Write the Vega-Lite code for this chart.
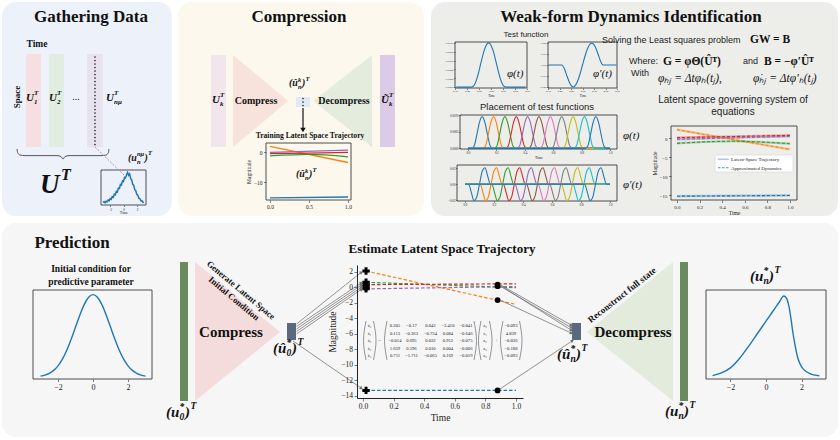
{
"$schema": "https://vega.github.io/schema/vega-lite/v6.json",
"width": 840, "height": 440, "autosize": "none", "padding": 0, "background": "#ffffff",
"config": {
  "view": {"stroke": null},
  "axis": {"grid": false, "domain": false, "labelFont": "Liberation Serif", "titleFont": "Liberation Serif", "titleFontWeight": "normal", "labelColor": "#222", "titleColor": "#222", "tickColor": "#333", "tickWidth": 0.6, "tickSize": 2.5, "labelPadding": 1.5, "labelFlush": false, "labelOverlap": false},
  "text": {"font": "Liberation Serif"}
},
"datasets": {
  "arrows": [
    {"x": 296.5, "y": 324, "x2": 361, "y2": 272.5},
    {"x": 296.5, "y": 326.5, "x2": 361, "y2": 283},
    {"x": 296.5, "y": 329, "x2": 361, "y2": 285.3},
    {"x": 296.5, "y": 331.5, "x2": 361, "y2": 287.5},
    {"x": 296.5, "y": 334, "x2": 361, "y2": 289.6},
    {"x": 293, "y": 341, "x2": 361, "y2": 388},
    {"x": 500, "y": 284.6, "x2": 571, "y2": 325},
    {"x": 500, "y": 286.1, "x2": 571, "y2": 327.5},
    {"x": 500, "y": 285.4, "x2": 571, "y2": 330},
    {"x": 500, "y": 300.1, "x2": 571, "y2": 333},
    {"x": 500, "y": 389, "x2": 572, "y2": 341}
  ],
  "bumps": [
    {"k": 0, "t": [0,0.025,0.044,0.062,0.081,0.1,0.119,0.138,0.156,0.175,1], "p": [0,0,0.00008,0.0004,0.00078,0.00095,0.00078,0.0004,0.00008,0,0], "d": [0,0,-0.0105,-0.0206,-0.0161,0,0.0161,0.0206,0.0105,0,0]},
    {"k": 1, "t": [0,0.105,0.124,0.142,0.161,0.18,0.199,0.218,0.236,0.255,1], "p": [0,0,0.00008,0.0004,0.00078,0.00095,0.00078,0.0004,0.00008,0,0], "d": [0,0,-0.0105,-0.0206,-0.0161,0,0.0161,0.0206,0.0105,0,0]},
    {"k": 2, "t": [0,0.185,0.204,0.222,0.241,0.26,0.279,0.298,0.316,0.335,1], "p": [0,0,0.00008,0.0004,0.00078,0.00095,0.00078,0.0004,0.00008,0,0], "d": [0,0,-0.0105,-0.0206,-0.0161,0,0.0161,0.0206,0.0105,0,0]},
    {"k": 3, "t": [0,0.265,0.284,0.302,0.321,0.34,0.359,0.378,0.396,0.415,1], "p": [0,0,0.00008,0.0004,0.00078,0.00095,0.00078,0.0004,0.00008,0,0], "d": [0,0,-0.0105,-0.0206,-0.0161,0,0.0161,0.0206,0.0105,0,0]},
    {"k": 4, "t": [0,0.345,0.364,0.382,0.401,0.42,0.439,0.458,0.476,0.495,1], "p": [0,0,0.00008,0.0004,0.00078,0.00095,0.00078,0.0004,0.00008,0,0], "d": [0,0,-0.0105,-0.0206,-0.0161,0,0.0161,0.0206,0.0105,0,0]},
    {"k": 5, "t": [0,0.425,0.444,0.462,0.481,0.5,0.519,0.538,0.556,0.575,1], "p": [0,0,0.00008,0.0004,0.00078,0.00095,0.00078,0.0004,0.00008,0,0], "d": [0,0,-0.0105,-0.0206,-0.0161,0,0.0161,0.0206,0.0105,0,0]},
    {"k": 6, "t": [0,0.505,0.524,0.542,0.561,0.58,0.599,0.618,0.636,0.655,1], "p": [0,0,0.00008,0.0004,0.00078,0.00095,0.00078,0.0004,0.00008,0,0], "d": [0,0,-0.0105,-0.0206,-0.0161,0,0.0161,0.0206,0.0105,0,0]},
    {"k": 7, "t": [0,0.585,0.604,0.622,0.641,0.66,0.679,0.698,0.716,0.735,1], "p": [0,0,0.00008,0.0004,0.00078,0.00095,0.00078,0.0004,0.00008,0,0], "d": [0,0,-0.0105,-0.0206,-0.0161,0,0.0161,0.0206,0.0105,0,0]},
    {"k": 8, "t": [0,0.665,0.684,0.702,0.721,0.74,0.759,0.778,0.796,0.815,1], "p": [0,0,0.00008,0.0004,0.00078,0.00095,0.00078,0.0004,0.00008,0,0], "d": [0,0,-0.0105,-0.0206,-0.0161,0,0.0161,0.0206,0.0105,0,0]},
    {"k": 9, "t": [0,0.745,0.764,0.782,0.801,0.82,0.839,0.858,0.876,0.895,1], "p": [0,0,0.00008,0.0004,0.00078,0.00095,0.00078,0.0004,0.00008,0,0], "d": [0,0,-0.0105,-0.0206,-0.0161,0,0.0161,0.0206,0.0105,0,0]},
    {"k": 10, "t": [0,0.825,0.844,0.862,0.881,0.9,0.919,0.938,0.956,0.975,1], "p": [0,0,0.00008,0.0004,0.00078,0.00095,0.00078,0.0004,0.00008,0,0], "d": [0,0,-0.0105,-0.0206,-0.0161,0,0.0161,0.0206,0.0105,0,0]}
  ],
  "latent": [
    {"s": "a", "t": 0, "v": -15.3}, {"s": "a", "t": 1, "v": -15.1},
    {"s": "b", "t": 0, "v": 2.2}, {"s": "b", "t": 1, "v": -3.0},
    {"s": "c", "t": 0, "v": -1.4}, {"s": "c", "t": 0.5, "v": -0.85}, {"s": "c", "t": 1, "v": -1.5},
    {"s": "d", "t": 0, "v": 0.1}, {"s": "d", "t": 1, "v": 0.7},
    {"s": "e", "t": 0, "v": -0.35}, {"s": "e", "t": 1, "v": 0.45}
  ],
  "ticks01": [
    {"m": 0, "lab": "0.0"}, {"m": 0.2, "lab": "0.2"}, {"m": 0.4, "lab": "0.4"}, {"m": 0.6, "lab": "0.6"}, {"m": 0.8, "lab": "0.8"}
  ]
},
"resolve": {"scale": {"x": "independent", "y": "independent", "color": "independent"}},
"layer": [
  {
    "encoding": {
      "x": {"field": "x", "type": "quantitative", "scale": {"domain": [0, 840], "nice": false, "zero": false}, "axis": null},
      "y": {"field": "y", "type": "quantitative", "scale": {"domain": [0, 440], "reverse": true, "nice": false, "zero": false}, "axis": null}
    },
    "resolve": {"scale": {"color": "independent"}},
    "layer": [
      {
        "data": {"values": [
          {"p": "g", "x": 2, "x2": 172, "y": 2, "y2": 216},
          {"p": "c", "x": 178, "x2": 424, "y": 2, "y2": 216},
          {"p": "w", "x": 431, "x2": 838, "y": 2, "y2": 216},
          {"p": "p", "x": 2, "x2": 838, "y": 223, "y2": 437}
        ]},
        "mark": {"type": "rect", "cornerRadius": 14},
        "encoding": {
          "x2": {"field": "x2"}, "y2": {"field": "y2"},
          "color": {"field": "p", "type": "nominal", "scale": {"domain": ["g", "c", "w", "p"], "range": ["#edf2fa", "#fcf8ee", "#ededea", "#f6f6f6"]}, "legend": null}
        }
      },
      {
        "data": {"values": [
          {"k": "u1", "x": 26, "x2": 41, "y": 54, "y2": 147},
          {"k": "u2", "x": 49, "x2": 64, "y": 54, "y2": 147},
          {"k": "un", "x": 87, "x2": 103, "y": 54, "y2": 147},
          {"k": "uk", "x": 211, "x2": 226, "y": 55, "y2": 147},
          {"k": "ukt", "x": 380, "x2": 395, "y": 55, "y2": 147},
          {"k": "lat", "x": 296, "x2": 310, "y": 97, "y2": 107},
          {"k": "st", "x": 180, "x2": 188, "y": 262, "y2": 401},
          {"k": "st", "x": 680, "x2": 688, "y": 262, "y2": 401},
          {"k": "code", "x": 287, "x2": 296, "y": 323, "y2": 340},
          {"k": "code", "x": 572, "x2": 581, "y": 323, "y2": 340}
        ]},
        "mark": {"type": "rect"},
        "encoding": {
          "x2": {"field": "x2"}, "y2": {"field": "y2"},
          "color": {"field": "k", "type": "nominal", "scale": {"domain": ["u1", "u2", "un", "uk", "ukt", "lat", "st", "code"], "range": ["#f6dfe0", "#e0ede0", "#e8e1ee", "#f1e6ec", "#dccbe6", "#e2e9f2", "#6a8b5f", "#5a6a7e"]}, "legend": null}
        }
      },
      {
        "data": {"values": [
          {"tri": "a", "x": 233, "y": 55, "y2": 147}, {"tri": "a", "x": 288, "y": 101, "y2": 101},
          {"tri": "b", "x": 313, "y": 101, "y2": 101}, {"tri": "b", "x": 372, "y": 55, "y2": 147},
          {"tri": "c", "x": 195, "y": 262, "y2": 401}, {"tri": "c", "x": 280, "y": 332, "y2": 332},
          {"tri": "d", "x": 587, "y": 332, "y2": 332}, {"tri": "d", "x": 673, "y": 262, "y2": 401}
        ]},
        "mark": {"type": "area", "orient": "vertical"},
        "encoding": {
          "y2": {"field": "y2"},
          "color": {"field": "tri", "type": "nominal", "scale": {"domain": ["a", "b", "c", "d"], "range": ["#f8e2dc", "#e4eddd", "#f5dcdc", "#e2ebdc"]}, "legend": null}
        }
      },
      {
        "data": {"values": [
          {"x": 101, "x2": 146, "y": 170, "y2": 205},
          {"x": 266, "x2": 351, "y": 143, "y2": 200},
          {"x": 455, "x2": 527, "y": 42, "y2": 88},
          {"x": 548, "x2": 617, "y": 42, "y2": 88},
          {"x": 460, "x2": 617, "y": 115, "y2": 149},
          {"x": 457, "x2": 617, "y": 165, "y2": 201},
          {"x": 671, "x2": 797, "y": 126, "y2": 200},
          {"x": 33, "x2": 152, "y": 290, "y2": 379},
          {"x": 706, "x2": 826, "y": 290, "y2": 379}
        ]},
        "mark": {"type": "rect", "filled": false, "stroke": "#3a3a3a", "strokeWidth": 0.9},
        "encoding": {"x2": {"field": "x2"}, "y2": {"field": "y2"}}
      },
      {
        "data": {"values": [{"x": 715, "x2": 793, "y": 155, "y2": 172}]},
        "mark": {"type": "rect", "fill": "#ffffff", "stroke": "#d4d4d4", "strokeWidth": 0.6, "cornerRadius": 1.5},
        "encoding": {"x2": {"field": "x2"}, "y2": {"field": "y2"}}
      },
      {
        "data": {"values": [
          {"i": 0, "x": 17, "y": 149}, {"i": 1, "x": 17.6, "y": 152.5}, {"i": 2, "x": 20, "y": 155}, {"i": 3, "x": 25, "y": 155.6},
          {"i": 4, "x": 57, "y": 155.6}, {"i": 5, "x": 61, "y": 156.6}, {"i": 6, "x": 63, "y": 159}, {"i": 7, "x": 65, "y": 156.6},
          {"i": 8, "x": 69, "y": 155.6}, {"i": 9, "x": 101, "y": 155.6}, {"i": 10, "x": 106, "y": 155}, {"i": 11, "x": 108.4, "y": 152.5}, {"i": 12, "x": 109, "y": 149}
        ]},
        "mark": {"type": "line", "color": "#444", "strokeWidth": 0.9, "interpolate": "monotone"},
        "encoding": {"order": {"field": "i", "type": "quantitative"}}
      }
    ]
  },
  {
    "encoding": {
      "x": {"field": "u", "type": "quantitative", "scale": {"domain": [-3.3, 3.3], "range": [101, 146], "nice": false, "zero": false}, "axis": {"zindex": 1, "orient": "bottom", "offset": -235, "values": [-2, 0, 2], "labelFontSize": 3.2, "tickSize": 1.5, "labelPadding": 0.5, "title": "Time", "titleFontSize": 4, "titlePadding": 0.5}},
      "y": {"field": "m", "type": "quantitative", "scale": {"domain": [-0.05, 1.05], "range": [205, 170], "nice": false, "zero": false}, "axis": null}
    },
    "layer": [
      {
        "data": {"values": [
          {"u": -3.0, "m": 0.03}, {"u": -2.85, "m": 0.06}, {"u": -2.7, "m": 0.02}, {"u": -2.55, "m": 0.07}, {"u": -2.4, "m": 0.05},
          {"u": -2.25, "m": 0.11}, {"u": -2.1, "m": 0.08}, {"u": -1.95, "m": 0.15}, {"u": -1.8, "m": 0.13}, {"u": -1.65, "m": 0.21},
          {"u": -1.5, "m": 0.19}, {"u": -1.35, "m": 0.29}, {"u": -1.2, "m": 0.27}, {"u": -1.05, "m": 0.38}, {"u": -0.9, "m": 0.36},
          {"u": -0.75, "m": 0.48}, {"u": -0.6, "m": 0.47}, {"u": -0.45, "m": 0.6}, {"u": -0.3, "m": 0.58}, {"u": -0.15, "m": 0.71},
          {"u": 0.0, "m": 0.69}, {"u": 0.15, "m": 0.82}, {"u": 0.3, "m": 0.8}, {"u": 0.45, "m": 0.9}, {"u": 0.6, "m": 0.97},
          {"u": 0.75, "m": 0.88}, {"u": 0.9, "m": 0.93}, {"u": 1.05, "m": 0.78}, {"u": 1.2, "m": 0.74}, {"u": 1.35, "m": 0.6},
          {"u": 1.5, "m": 0.57}, {"u": 1.65, "m": 0.43}, {"u": 1.8, "m": 0.4}, {"u": 1.95, "m": 0.28}, {"u": 2.1, "m": 0.26},
          {"u": 2.25, "m": 0.16}, {"u": 2.4, "m": 0.15}, {"u": 2.55, "m": 0.08}, {"u": 2.7, "m": 0.09}, {"u": 2.85, "m": 0.03}, {"u": 3.0, "m": 0.04}
        ]},
        "mark": {"type": "line", "color": "#1f77b4", "strokeWidth": 1.5}
      },
      {
        "data": {"name": "ticks01"},
        "mark": {"type": "text", "fontSize": 2.6, "align": "right", "baseline": "middle", "dx": -2, "color": "#222"},
        "encoding": {"x": {"datum": -3.3, "type": "quantitative"}, "text": {"field": "lab"}}
      }
    ]
  },
  {
    "data": {"values": [
      {"s": "a", "t": 0, "v": -15.3}, {"s": "a", "t": 1, "v": -15.0},
      {"s": "b", "t": 0, "v": 1.9}, {"s": "b", "t": 1, "v": -3.5},
      {"s": "c", "t": 0, "v": -1.3}, {"s": "c", "t": 0.5, "v": -0.8}, {"s": "c", "t": 1, "v": -1.6},
      {"s": "d", "t": 0, "v": -0.5}, {"s": "d", "t": 0.5, "v": -0.35}, {"s": "d", "t": 1, "v": -0.1},
      {"s": "e", "t": 0, "v": -0.1}, {"s": "e", "t": 1, "v": 0.6}
    ]},
    "mark": {"type": "line", "strokeWidth": 1.3, "interpolate": "monotone"},
    "encoding": {
      "x": {"field": "t", "type": "quantitative", "scale": {"domain": [-0.051, 1.038], "range": [266, 351], "nice": false, "zero": false}, "axis": {"zindex": 1, "orient": "bottom", "offset": -240, "values": [0, 0.5, 1], "format": ".1f", "labelFontSize": 5.5, "title": null}},
      "y": {"field": "v", "type": "quantitative", "scale": {"domain": [-16, 3], "range": [200, 143], "nice": false, "zero": false}, "axis": {"zindex": 1, "orient": "left", "offset": -266, "values": [0, -10], "labelFontSize": 5.5, "title": "Magnitude", "titleFontSize": 5.5, "titlePadding": 2}},
      "color": {"field": "s", "type": "nominal", "scale": {"domain": ["a", "b", "c", "d", "e"], "range": ["#1f77b4", "#ff7f0e", "#2ca02c", "#d62728", "#9467bd"]}, "legend": null}
    }
  },
  {
    "data": {"values": [
      {"t": 0.355, "v": 0}, {"t": 0.415, "v": 0}, {"t": 0.4244, "v": 0.000013}, {"t": 0.4338, "v": 0.000084}, {"t": 0.4431, "v": 0.000226},
      {"t": 0.4525, "v": 0.000422}, {"t": 0.4619, "v": 0.000635}, {"t": 0.4713, "v": 0.000824}, {"t": 0.4806, "v": 0.000954}, {"t": 0.49, "v": 0.001},
      {"t": 0.4994, "v": 0.000954}, {"t": 0.5088, "v": 0.000824}, {"t": 0.5181, "v": 0.000635}, {"t": 0.5275, "v": 0.000422}, {"t": 0.5369, "v": 0.000226},
      {"t": 0.5463, "v": 0.000084}, {"t": 0.5556, "v": 0.000013}, {"t": 0.565, "v": 0}, {"t": 0.645, "v": 0}
    ]},
    "mark": {"type": "line", "color": "#1f77b4", "strokeWidth": 1.1, "interpolate": "monotone"},
    "encoding": {
      "x": {"field": "t", "type": "quantitative", "scale": {"domain": [0.35, 0.65], "range": [455, 527], "nice": false, "zero": false}, "axis": {"zindex": 1, "orient": "bottom", "offset": -352, "values": [0.35, 0.4, 0.45, 0.5, 0.55, 0.6, 0.65], "format": ".2f", "labelFontSize": 2.6, "tickSize": 1.5, "labelPadding": 0.5, "title": "Time", "titleFontSize": 3.2, "titlePadding": 0.5}},
      "y": {"field": "v", "type": "quantitative", "scale": {"domain": [-0.00002, 0.00102], "range": [88, 42], "nice": false, "zero": false}, "axis": {"zindex": 1, "orient": "left", "offset": -455, "values": [0, 0.0002, 0.0004, 0.0006, 0.0008, 0.001], "format": ".5f", "labelFontSize": 2.4, "tickSize": 1.5, "labelPadding": 0.5, "title": null}}
    }
  },
  {
    "data": {"values": [
      {"t": 0.352, "v": 0}, {"t": 0.41, "v": 0}, {"t": 0.4213, "v": -0.00336}, {"t": 0.4325, "v": -0.01004}, {"t": 0.4438, "v": -0.01622},
      {"t": 0.455, "v": -0.01966}, {"t": 0.4598, "v": -0.02}, {"t": 0.4663, "v": -0.01936}, {"t": 0.4775, "v": -0.01536}, {"t": 0.4888, "v": -0.00846},
      {"t": 0.5, "v": 0}, {"t": 0.5113, "v": 0.00846}, {"t": 0.5225, "v": 0.01536}, {"t": 0.5338, "v": 0.01936}, {"t": 0.5402, "v": 0.02},
      {"t": 0.545, "v": 0.01966}, {"t": 0.5563, "v": 0.01622}, {"t": 0.5675, "v": 0.01004}, {"t": 0.5788, "v": 0.00336}, {"t": 0.59, "v": 0}, {"t": 0.648, "v": 0}
    ]},
    "mark": {"type": "line", "color": "#1f77b4", "strokeWidth": 1.1, "interpolate": "monotone"},
    "encoding": {
      "x": {"field": "t", "type": "quantitative", "scale": {"domain": [0.35, 0.65], "range": [548, 617], "nice": false, "zero": false}, "axis": {"zindex": 1, "orient": "bottom", "offset": -352, "values": [0.35, 0.4, 0.45, 0.5, 0.55, 0.6, 0.65], "format": ".2f", "labelFontSize": 2.6, "tickSize": 1.5, "labelPadding": 0.5, "title": "Time", "titleFontSize": 3.2, "titlePadding": 0.5}},
      "y": {"field": "v", "type": "quantitative", "scale": {"domain": [-0.021, 0.021], "range": [88, 42], "nice": false, "zero": false}, "axis": {"zindex": 1, "orient": "left", "offset": -548, "values": [-0.02, -0.01, 0, 0.01, 0.02], "format": ".3f", "labelFontSize": 2.4, "tickSize": 1.5, "labelPadding": 0.5, "title": null}}
    }
  },
  {
    "data": {"name": "bumps"},
    "transform": [{"flatten": ["t", "p", "d"]}],
    "mark": {"type": "line", "strokeWidth": 1.1, "interpolate": "monotone"},
    "encoding": {
      "x": {"field": "t", "type": "quantitative", "scale": {"domain": [-0.056, 1.049], "range": [460, 617], "nice": false, "zero": false}, "axis": {"zindex": 1, "orient": "bottom", "offset": -291, "values": [0, 0.2, 0.4, 0.6, 0.8, 1], "format": ".1f", "labelFontSize": 3, "tickSize": 1.5, "labelPadding": 0.5, "title": "Time", "titleFontSize": 3.8, "titlePadding": 1}},
      "y": {"field": "p", "type": "quantitative", "scale": {"domain": [-0.00002, 0.001], "range": [149, 115], "nice": false, "zero": false}, "axis": {"zindex": 1, "orient": "left", "offset": -460, "values": [0, 0.0005, 0.001], "format": ".4f", "labelFontSize": 3, "tickSize": 1.5, "labelPadding": 0.5, "title": null}},
      "color": {"field": "k", "type": "nominal", "scale": {"domain": [0, 1, 2, 3, 4, 5, 6, 7, 8, 9, 10], "range": ["#1f77b4", "#ff7f0e", "#2ca02c", "#d62728", "#9467bd", "#8c564b", "#e377c2", "#7f7f7f", "#bcbd22", "#17becf", "#1f77b4"]}, "legend": null}
    }
  },
  {
    "data": {"name": "bumps"},
    "transform": [{"flatten": ["t", "p", "d"]}],
    "mark": {"type": "line", "strokeWidth": 1.1, "interpolate": "monotone"},
    "encoding": {
      "x": {"field": "t", "type": "quantitative", "scale": {"domain": [-0.055, 1.048], "range": [457, 617], "nice": false, "zero": false}, "axis": {"zindex": 1, "orient": "bottom", "offset": -239, "values": [0, 0.2, 0.4, 0.6, 0.8, 1], "format": ".1f", "labelFontSize": 3, "tickSize": 1.5, "labelPadding": 0.5, "title": null}},
      "y": {"field": "d", "type": "quantitative", "scale": {"domain": [-0.021, 0.024], "range": [201, 165], "nice": false, "zero": false}, "axis": {"zindex": 1, "orient": "left", "offset": -457, "values": [-0.02, 0, 0.02], "format": ".2f", "labelFontSize": 3.2, "tickSize": 1.5, "labelPadding": 0.5, "title": null}},
      "color": {"field": "k", "type": "nominal", "scale": {"domain": [0, 1, 2, 3, 4, 5, 6, 7, 8, 9, 10], "range": ["#1f77b4", "#ff7f0e", "#2ca02c", "#d62728", "#9467bd", "#8c564b", "#e377c2", "#7f7f7f", "#bcbd22", "#17becf", "#1f77b4"]}, "legend": null}
    }
  },
  {
    "data": {"name": "latent"},
    "encoding": {
      "x": {"field": "t", "type": "quantitative", "scale": {"domain": [-0.053, 1.062], "range": [671, 797], "nice": false, "zero": false}, "axis": {"zindex": 1, "orient": "bottom", "offset": -240, "values": [0, 0.2, 0.4, 0.6, 0.8, 1], "format": ".1f", "labelFontSize": 5, "title": "Time", "titleFontSize": 5.5, "titlePadding": 1}},
      "y": {"field": "v", "type": "quantitative", "scale": {"domain": [-16.3, 3.16], "range": [200, 126], "nice": false, "zero": false}, "axis": {"zindex": 1, "orient": "left", "offset": -671, "values": [0, -5, -10, -15], "labelFontSize": 5, "title": "Magnitude", "titleFontSize": 5.5, "titlePadding": 2}},
      "color": {"field": "s", "type": "nominal", "scale": {"domain": ["a", "b", "c", "d", "e"], "range": ["#1f77b4", "#ff7f0e", "#2ca02c", "#d62728", "#9467bd"]}, "legend": null}
    },
    "layer": [
      {"mark": {"type": "line", "strokeWidth": 2.2, "opacity": 0.4, "interpolate": "monotone"}},
      {"mark": {"type": "line", "strokeWidth": 1.1, "strokeDash": [3, 2], "interpolate": "monotone"}}
    ]
  },
  {
    "encoding": {
      "x": {"field": "u", "type": "quantitative", "scale": {"domain": [-3.43, 3.37], "range": [33, 152], "nice": false, "zero": false}, "axis": {"zindex": 1, "orient": "bottom", "offset": -61, "values": [-2, 0, 2], "labelFontSize": 8, "title": null}},
      "y": {"field": "m", "type": "quantitative", "scale": {"domain": [-0.022, 0.951], "range": [379, 290], "nice": false, "zero": false}, "axis": null}
    },
    "layer": [
      {
        "data": {"values": [
          {"u": -3, "m": 0.01}, {"u": -2.75, "m": 0.021}, {"u": -2.5, "m": 0.04}, {"u": -2.25, "m": 0.072}, {"u": -2, "m": 0.122},
          {"u": -1.75, "m": 0.195}, {"u": -1.5, "m": 0.292}, {"u": -1.25, "m": 0.412}, {"u": -1, "m": 0.546}, {"u": -0.75, "m": 0.679},
          {"u": -0.5, "m": 0.794}, {"u": -0.25, "m": 0.872}, {"u": 0, "m": 0.9}, {"u": 0.25, "m": 0.872}, {"u": 0.5, "m": 0.794},
          {"u": 0.75, "m": 0.679}, {"u": 1, "m": 0.546}, {"u": 1.25, "m": 0.412}, {"u": 1.5, "m": 0.292}, {"u": 1.75, "m": 0.195},
          {"u": 2, "m": 0.122}, {"u": 2.25, "m": 0.072}, {"u": 2.5, "m": 0.04}, {"u": 2.75, "m": 0.021}, {"u": 3, "m": 0.01}
        ]},
        "mark": {"type": "line", "color": "#1f77b4", "strokeWidth": 1.4, "interpolate": "monotone"}
      },
      {
        "data": {"name": "ticks01"},
        "mark": {"type": "rule", "color": "#333", "strokeWidth": 0.6},
        "encoding": {"x": {"datum": -3.43, "type": "quantitative"}, "x2": {"datum": -3.58}}
      },
      {
        "data": {"name": "ticks01"},
        "mark": {"type": "text", "fontSize": 8, "align": "right", "baseline": "middle", "dx": -4.5, "color": "#222"},
        "encoding": {"x": {"datum": -3.43, "type": "quantitative"}, "text": {"field": "lab"}}
      }
    ]
  },
  {
    "encoding": {
      "x": {"field": "u", "type": "quantitative", "scale": {"domain": [-3.37, 3.37], "range": [706, 826], "nice": false, "zero": false}, "axis": {"zindex": 1, "orient": "bottom", "offset": -61, "values": [-2, 0, 2], "labelFontSize": 8, "title": null}},
      "y": {"field": "m", "type": "quantitative", "scale": {"domain": [-0.022, 0.951], "range": [379, 290], "nice": false, "zero": false}, "axis": null}
    },
    "layer": [
      {
        "data": {"values": [
          {"u": -3, "m": 0.015}, {"u": -2.5, "m": 0.045}, {"u": -2, "m": 0.1}, {"u": -1.5, "m": 0.2}, {"u": -1, "m": 0.33},
          {"u": -0.5, "m": 0.47}, {"u": 0, "m": 0.61}, {"u": 0.5, "m": 0.75}, {"u": 0.75, "m": 0.82}, {"u": 1, "m": 0.885},
          {"u": 1.1, "m": 0.875}, {"u": 1.2, "m": 0.84}, {"u": 1.3, "m": 0.76}, {"u": 1.4, "m": 0.64}, {"u": 1.5, "m": 0.5},
          {"u": 1.6, "m": 0.38}, {"u": 1.7, "m": 0.28}, {"u": 1.8, "m": 0.2}, {"u": 2, "m": 0.11}, {"u": 2.25, "m": 0.06},
          {"u": 2.5, "m": 0.035}, {"u": 2.75, "m": 0.02}, {"u": 3, "m": 0.012}
        ]},
        "mark": {"type": "line", "color": "#1f77b4", "strokeWidth": 1.4, "interpolate": "monotone"}
      },
      {
        "data": {"name": "ticks01"},
        "mark": {"type": "rule", "color": "#333", "strokeWidth": 0.6},
        "encoding": {"x": {"datum": -3.37, "type": "quantitative"}, "x2": {"datum": -3.52}}
      },
      {
        "data": {"name": "ticks01"},
        "mark": {"type": "text", "fontSize": 8, "align": "right", "baseline": "middle", "dx": -4.5, "color": "#222"},
        "encoding": {"x": {"datum": -3.37, "type": "quantitative"}, "text": {"field": "lab"}}
      }
    ]
  },
  {
    "encoding": {
      "x": {"field": "t", "type": "quantitative", "scale": {"domain": [-0.039, 1.046], "range": [357, 523], "nice": false, "zero": false}, "axis": {"zindex": 1, "orient": "bottom", "offset": -42, "values": [0, 0.2, 0.4, 0.6, 0.8, 1], "format": ".1f", "labelFontSize": 7.5, "domain": true, "domainColor": "#222", "domainWidth": 1, "tickSize": 3, "title": "Time", "titleFontSize": 9.5, "titlePadding": 2}},
      "y": {"field": "v", "type": "quantitative", "scale": {"domain": [-14.28, 2.88], "range": [398, 265], "nice": false, "zero": false}, "axis": {"zindex": 1, "orient": "left", "offset": -357, "values": [-14, -12, -10, -8, -6, -4, -2, 0, 2], "labelFontSize": 7.5, "domain": true, "domainColor": "#222", "domainWidth": 1, "tickSize": 3, "title": "Magnitude", "titleFontSize": 9.5, "titlePadding": 3}}
    },
    "layer": [
      {
        "data": {"values": [
          {"s": "a", "t": 0.02, "v": -13.3}, {"s": "a", "t": 1.0, "v": -13.3},
          {"s": "b", "t": 0.02, "v": 2.1}, {"s": "b", "t": 1.0, "v": -2.2},
          {"s": "c", "t": 0.02, "v": 0.65}, {"s": "c", "t": 1.0, "v": -0.05},
          {"s": "d", "t": 0.02, "v": 0.35}, {"s": "d", "t": 1.0, "v": 0.45},
          {"s": "e", "t": 0.02, "v": -0.2}, {"s": "e", "t": 1.0, "v": 0.1}
        ]},
        "mark": {"type": "line", "strokeWidth": 1.2, "strokeDash": [3.5, 2]},
        "encoding": {"color": {"field": "s", "type": "nominal", "scale": {"domain": ["a", "b", "c", "d", "e"], "range": ["#1f77b4", "#ff7f0e", "#2ca02c", "#d62728", "#9467bd"]}, "legend": null}}
      },
      {
        "data": {"values": [
          {"t": 0.02, "v": 2.1}, {"t": 0.02, "v": 0.65}, {"t": 0.02, "v": 0.35}, {"t": 0.02, "v": 0.05}, {"t": 0.02, "v": -0.2}, {"t": 0.02, "v": -13.3}
        ]},
        "mark": {"type": "point", "shape": "cross", "filled": true, "size": 55, "color": "#000", "opacity": 1}
      },
      {
        "data": {"values": [
          {"t": 0.88, "v": 0.35}, {"t": 0.88, "v": 0.15}, {"t": 0.88, "v": -1.65}, {"t": 0.88, "v": -13.3}
        ]},
        "mark": {"type": "point", "shape": "circle", "filled": true, "size": 34, "color": "#000", "opacity": 1}
      }
    ]
  },
  {
    "encoding": {
      "x": {"field": "x", "type": "quantitative", "scale": {"domain": [0, 840], "nice": false, "zero": false}, "axis": null},
      "y": {"field": "y", "type": "quantitative", "scale": {"domain": [0, 440], "reverse": true, "nice": false, "zero": false}, "axis": null}
    },
    "layer": [
      {
        "data": {"values": [{"x": 95, "y": 57, "y2": 146}, {"x": 303, "y": 98.5, "y2": 106}]},
        "mark": {"type": "rule", "color": "#222", "strokeWidth": 1.6, "strokeCap": "round", "strokeDash": [0.1, 3.4]},
        "encoding": {"y2": {"field": "y2"}}
      },
      {
        "data": {"values": [{"x": 95, "y": 147, "x2": 125, "y2": 176}]},
        "mark": {"type": "rule", "color": "#b48ac9", "strokeWidth": 1, "strokeDash": [2, 1.5]},
        "encoding": {"x2": {"field": "x2"}, "y2": {"field": "y2"}}
      },
      {
        "data": {"values": [{"x": 303, "y": 108, "x2": 303, "y2": 128}]},
        "mark": {"type": "rule", "color": "#111", "strokeWidth": 1.2},
        "encoding": {"x2": {"field": "x2"}, "y2": {"field": "y2"}}
      },
      {
        "data": {"values": [{"x": 303, "y": 130}]},
        "mark": {"type": "point", "shape": "triangle-down", "filled": true, "size": 30, "color": "#111", "opacity": 1}
      },
      {
        "data": {"name": "arrows"},
        "mark": {"type": "rule", "color": "#707070", "strokeWidth": 0.75},
        "encoding": {"x2": {"field": "x2"}, "y2": {"field": "y2"}}
      },
      {
        "data": {"name": "arrows"},
        "transform": [{"calculate": "atan2(datum.x2 - datum.x, datum.y - datum.y2) * 180 / PI", "as": "ang"}],
        "mark": {"type": "point", "shape": "triangle", "filled": true, "size": 14, "color": "#707070", "opacity": 1},
        "encoding": {
          "x": {"field": "x2", "type": "quantitative", "scale": {"domain": [0, 840], "nice": false, "zero": false}, "axis": null},
          "y": {"field": "y2", "type": "quantitative", "scale": {"domain": [0, 440], "reverse": true, "nice": false, "zero": false}, "axis": null},
          "angle": {"field": "ang", "type": "quantitative", "scale": null}
        }
      },
      {
        "data": {"values": [
          {"b": "l1", "i": 0, "x": 366, "y": 321}, {"b": "l1", "i": 1, "x": 363.5, "y": 340.5}, {"b": "l1", "i": 2, "x": 366, "y": 360},
          {"b": "r1", "i": 0, "x": 373.5, "y": 321}, {"b": "r1", "i": 1, "x": 376, "y": 340.5}, {"b": "r1", "i": 2, "x": 373.5, "y": 360},
          {"b": "l2", "i": 0, "x": 387, "y": 321}, {"b": "l2", "i": 1, "x": 384.5, "y": 340.5}, {"b": "l2", "i": 2, "x": 387, "y": 360},
          {"b": "r2", "i": 0, "x": 474, "y": 321}, {"b": "r2", "i": 1, "x": 476.5, "y": 340.5}, {"b": "r2", "i": 2, "x": 474, "y": 360},
          {"b": "l3", "i": 0, "x": 481, "y": 321}, {"b": "l3", "i": 1, "x": 478.5, "y": 340.5}, {"b": "l3", "i": 2, "x": 481, "y": 360},
          {"b": "r3", "i": 0, "x": 489.5, "y": 321}, {"b": "r3", "i": 1, "x": 492, "y": 340.5}, {"b": "r3", "i": 2, "x": 489.5, "y": 360},
          {"b": "l4", "i": 0, "x": 503, "y": 321}, {"b": "l4", "i": 1, "x": 500.5, "y": 340.5}, {"b": "l4", "i": 2, "x": 503, "y": 360},
          {"b": "r4", "i": 0, "x": 519.5, "y": 321}, {"b": "r4", "i": 1, "x": 522, "y": 340.5}, {"b": "r4", "i": 2, "x": 519.5, "y": 360}
        ]},
        "mark": {"type": "line", "color": "#333", "strokeWidth": 0.5, "interpolate": "natural"},
        "encoding": {"detail": {"field": "b"}, "order": {"field": "i", "type": "quantitative"}}
      },
      {
        "data": {"values": [{"x": 718, "x2": 729, "y": 159.3, "y2": 159.3}]},
        "mark": {"type": "rule", "color": "#a9c9e6", "strokeWidth": 1.6},
        "encoding": {"x2": {"field": "x2"}, "y2": {"field": "y2"}}
      },
      {
        "data": {"values": [{"x": 718, "x2": 729, "y": 167.8, "y2": 167.8}]},
        "mark": {"type": "rule", "color": "#4a8cc4", "strokeWidth": 1.1, "strokeDash": [2.5, 1.5]},
        "encoding": {"x2": {"field": "x2"}, "y2": {"field": "y2"}}
      },
      {
        "data": {"values": [
          {"x": 91, "y": 22, "t": "Gathering Data"}, {"x": 299, "y": 22, "t": "Compression"},
          {"x": 631, "y": 22, "t": "Weak-form Dynamics Identification"}, {"x": 72, "y": 248, "t": "Prediction"}
        ]},
        "mark": {"type": "text", "fontWeight": "bold", "fontSize": 17, "align": "center", "baseline": "alphabetic", "color": "#111"},
        "encoding": {"text": {"field": "t"}}
      },
      {
        "data": {"values": [{"x": 442, "y": 253, "t": "Estimate Latent Space Trajectory"}]},
        "mark": {"type": "text", "fontWeight": "bold", "fontSize": 13, "align": "center", "baseline": "alphabetic", "color": "#111"},
        "encoding": {"text": {"field": "t"}}
      },
      {
        "data": {"values": [{"x": 231, "y": 337, "t": "Compress"}, {"x": 633, "y": 337, "t": "Decompress"}]},
        "mark": {"type": "text", "fontWeight": "bold", "fontSize": 15, "align": "center", "baseline": "alphabetic", "color": "#111"},
        "encoding": {"text": {"field": "t"}}
      },
      {
        "data": {"values": [{"x": 256, "y": 104, "t": "Compress"}, {"x": 344, "y": 104, "t": "Decompress"}]},
        "mark": {"type": "text", "fontWeight": "bold", "fontSize": 10, "align": "center", "baseline": "alphabetic", "color": "#111"},
        "encoding": {"text": {"field": "t"}}
      },
      {
        "data": {"values": [{"x": 37, "y": 47, "t": "Time"}, {"x": 91, "y": 272, "t": "Initial condition for"}, {"x": 91, "y": 285, "t": "predictive parameter"}]},
        "mark": {"type": "text", "fontWeight": "bold", "fontSize": 9.5, "align": "center", "baseline": "alphabetic", "color": "#111"},
        "encoding": {"text": {"field": "t"}}
      },
      {
        "data": {"values": [{"x": 310, "y": 138, "t": "Training Latent Space Trajectory"}]},
        "mark": {"type": "text", "fontWeight": "bold", "fontSize": 7.6, "align": "center", "baseline": "alphabetic", "color": "#111"},
        "encoding": {"text": {"field": "t"}}
      },
      {
        "data": {"values": [{"x": 17, "y": 97, "t": "Space"}]},
        "mark": {"type": "text", "fontWeight": "bold", "fontSize": 9, "align": "center", "baseline": "middle", "angle": 270, "color": "#111"},
        "encoding": {"text": {"field": "t"}}
      },
      {
        "data": {"values": [{"x": 241, "y": 290, "t": "Generate Latent Space"}, {"x": 234, "y": 298.5, "t": "Initial Condition"}]},
        "mark": {"type": "text", "fontWeight": "bold", "fontSize": 8.8, "align": "center", "baseline": "middle", "angle": 40, "color": "#111"},
        "encoding": {"text": {"field": "t"}}
      },
      {
        "data": {"values": [{"x": 622, "y": 295, "t": "Reconstruct full state"}]},
        "mark": {"type": "text", "fontWeight": "bold", "fontSize": 9.2, "align": "center", "baseline": "middle", "angle": 322, "color": "#111"},
        "encoding": {"text": {"field": "t"}}
      },
      {
        "data": {"values": [{"x": 526, "y": 37, "t": "Test function"}]},
        "mark": {"type": "text", "font": "Liberation Sans", "fontSize": 8, "align": "center", "baseline": "alphabetic", "color": "#222"},
        "encoding": {"text": {"field": "t"}}
      },
      {
        "data": {"values": [{"x": 537, "y": 110, "t": "Placement of test functions"}]},
        "mark": {"type": "text", "font": "Liberation Sans", "fontSize": 9.5, "align": "center", "baseline": "alphabetic", "color": "#222"},
        "encoding": {"text": {"field": "t"}}
      },
      {
        "data": {"values": [{"x": 733, "y": 103, "t": "Latent space governing system of"}, {"x": 733, "y": 115, "t": "equations"}]},
        "mark": {"type": "text", "font": "Liberation Sans", "fontSize": 10, "align": "center", "baseline": "alphabetic", "color": "#222"},
        "encoding": {"text": {"field": "t"}}
      },
      {
        "data": {"values": [{"x": 602, "y": 43, "t": "Solving the Least squares problem"}, {"x": 629, "y": 64, "t": "Where:"}, {"x": 743, "y": 64, "t": "and"}, {"x": 631, "y": 76, "t": "With"}]},
        "mark": {"type": "text", "font": "Liberation Sans", "fontSize": 9, "align": "left", "baseline": "alphabetic", "color": "#222"},
        "encoding": {"text": {"field": "t"}}
      },
      {
        "data": {"values": [{"x": 750, "y": 43, "t": "GW = B"}, {"x": 663, "y": 65, "t": "G = φΘ(Ûᵀ)"}, {"x": 764, "y": 65, "t": "B = −φ′Ûᵀ"}]},
        "mark": {"type": "text", "fontWeight": "bold", "fontSize": 11.5, "align": "left", "baseline": "alphabetic", "color": "#111"},
        "encoding": {"text": {"field": "t"}}
      },
      {
        "data": {"values": [{"x": 658, "y": 82, "t": "φₕⱼ = Δtφₕ(tⱼ),"}, {"x": 753, "y": 82, "t": "φ̇ₕⱼ = Δtφ′ₕ(tⱼ)"}]},
        "mark": {"type": "text", "fontStyle": "italic", "fontSize": 11.5, "align": "left", "baseline": "alphabetic", "color": "#111"},
        "encoding": {"text": {"field": "t"}}
      },
      {
        "data": {"values": [{"x": 507, "y": 77, "t": "φ(t)"}, {"x": 593, "y": 77, "t": "φ′(t)"}, {"x": 623, "y": 139, "t": "φ(t)"}, {"x": 623, "y": 188, "t": "φ′(t)"}]},
        "mark": {"type": "text", "fontStyle": "italic", "fontSize": 11, "align": "left", "baseline": "alphabetic", "color": "#111"},
        "encoding": {"text": {"field": "t"}}
      },
      {
        "data": {"values": [{"x": 731, "y": 161, "t": "Latent-Space Trajectory"}, {"x": 731, "y": 169.6, "t": "Approximated Dynamics"}]},
        "mark": {"type": "text", "fontSize": 5, "align": "left", "baseline": "alphabetic", "color": "#222"},
        "encoding": {"text": {"field": "t"}}
      },
      {
        "data": {"values": [{"x": 76, "y": 100, "t": "..."}]},
        "mark": {"type": "text", "fontSize": 10, "align": "center", "baseline": "alphabetic", "color": "#222"},
        "encoding": {"text": {"field": "t"}}
      },
      {
        "data": {"values": [
          {"x": 369.5, "y": 326, "t": "ż₀"}, {"x": 369.5, "y": 333.5, "t": "ż₁"}, {"x": 369.5, "y": 341, "t": "ż₂"}, {"x": 369.5, "y": 348.5, "t": "ż₃"}, {"x": 369.5, "y": 356, "t": "ż₄"},
          {"x": 379.5, "y": 341, "t": "="},
          {"x": 395, "y": 326, "t": "0.205"}, {"x": 411.5, "y": 326, "t": "−0.17"}, {"x": 430.5, "y": 326, "t": "0.043"}, {"x": 448, "y": 326, "t": "−3.410"}, {"x": 466, "y": 326, "t": "−0.041"},
          {"x": 395, "y": 333.5, "t": "0.113"}, {"x": 411.5, "y": 333.5, "t": "−0.363"}, {"x": 430.5, "y": 333.5, "t": "−0.734"}, {"x": 448, "y": 333.5, "t": "0.084"}, {"x": 466, "y": 333.5, "t": "−0.646"},
          {"x": 395, "y": 341, "t": "−0.014"}, {"x": 411.5, "y": 341, "t": "0.695"}, {"x": 430.5, "y": 341, "t": "0.032"}, {"x": 448, "y": 341, "t": "0.912"}, {"x": 466, "y": 341, "t": "−0.075"},
          {"x": 395, "y": 348.5, "t": "1.659"}, {"x": 411.5, "y": 348.5, "t": "0.596"}, {"x": 430.5, "y": 348.5, "t": "0.010"}, {"x": 448, "y": 348.5, "t": "0.004"}, {"x": 466, "y": 348.5, "t": "−0.006"},
          {"x": 395, "y": 356, "t": "0.711"}, {"x": 411.5, "y": 356, "t": "−1.711"}, {"x": 430.5, "y": 356, "t": "−0.065"}, {"x": 448, "y": 356, "t": "0.169"}, {"x": 466, "y": 356, "t": "−0.019"},
          {"x": 485, "y": 326, "t": "z₀"}, {"x": 485, "y": 333.5, "t": "z₁"}, {"x": 485, "y": 341, "t": "z₂"}, {"x": 485, "y": 348.5, "t": "z₃"}, {"x": 485, "y": 356, "t": "z₄"},
          {"x": 496.5, "y": 341, "t": "+"},
          {"x": 511, "y": 326, "t": "−0.093"}, {"x": 511, "y": 333.5, "t": "4.839"}, {"x": 511, "y": 341, "t": "−0.036"}, {"x": 511, "y": 348.5, "t": "−0.188"}, {"x": 511, "y": 356, "t": "−0.093"}
        ]},
        "mark": {"type": "text", "fontSize": 4.6, "align": "center", "baseline": "middle", "color": "#222"},
        "encoding": {"text": {"field": "t"}}
      },
      {
        "data": {"values": [
          {"x": 166, "y": 417, "t": "(u"}, {"x": 185, "y": 417, "t": ")"},
          {"x": 273, "y": 353, "t": "(û"}, {"x": 292, "y": 353, "t": ")"},
          {"x": 557, "y": 359, "t": "(û"}, {"x": 576, "y": 359, "t": ")"},
          {"x": 665, "y": 416, "t": "(u"}, {"x": 684, "y": 416, "t": ")"},
          {"x": 750, "y": 281, "t": "(u"}, {"x": 769, "y": 281, "t": ")"}
        ]},
        "mark": {"type": "text", "fontWeight": "bold", "fontStyle": "italic", "fontSize": 15, "align": "left", "baseline": "alphabetic", "color": "#111"},
        "encoding": {"text": {"field": "t"}}
      },
      {
        "data": {"values": [
          {"x": 179.5, "y": 420, "t": "0"}, {"x": 179.5, "y": 410, "t": "*"}, {"x": 190.5, "y": 409, "t": "T"},
          {"x": 286.5, "y": 356, "t": "0"}, {"x": 286.5, "y": 346, "t": "*"}, {"x": 297.5, "y": 345, "t": "T"},
          {"x": 570.5, "y": 362, "t": "n"}, {"x": 570.5, "y": 352, "t": "*"}, {"x": 581.5, "y": 351, "t": "T"},
          {"x": 678.5, "y": 419, "t": "n"}, {"x": 678.5, "y": 409, "t": "*"}, {"x": 689.5, "y": 408, "t": "T"},
          {"x": 763.5, "y": 284, "t": "n"}, {"x": 763.5, "y": 274, "t": "*"}, {"x": 774.5, "y": 273, "t": "T"}
        ]},
        "mark": {"type": "text", "fontWeight": "bold", "fontStyle": "italic", "fontSize": 9.5, "align": "left", "baseline": "alphabetic", "color": "#111"},
        "encoding": {"text": {"field": "t"}}
      },
      {
        "data": {"values": [
          {"x": 26, "y": 101, "t": "U"}, {"x": 49, "y": 101, "t": "U"}, {"x": 106, "y": 101, "t": "U"}, {"x": 212, "y": 103, "t": "U"}, {"x": 381, "y": 103, "t": "Ũ"}
        ]},
        "mark": {"type": "text", "fontWeight": "bold", "fontStyle": "italic", "fontSize": 11, "align": "left", "baseline": "alphabetic", "color": "#111"},
        "encoding": {"text": {"field": "t"}}
      },
      {
        "data": {"values": [
          {"x": 34, "y": 104, "t": "1"}, {"x": 34, "y": 95, "t": "T"}, {"x": 57, "y": 104, "t": "2"}, {"x": 57, "y": 95, "t": "T"},
          {"x": 114, "y": 104, "t": "nμ"}, {"x": 114, "y": 95, "t": "T"}, {"x": 220, "y": 106, "t": "k"}, {"x": 220, "y": 97, "t": "T"},
          {"x": 389, "y": 106, "t": "k"}, {"x": 389, "y": 97, "t": "T"}
        ]},
        "mark": {"type": "text", "fontWeight": "bold", "fontStyle": "italic", "fontSize": 7, "align": "left", "baseline": "alphabetic", "color": "#111"},
        "encoding": {"text": {"field": "t"}}
      },
      {
        "data": {"values": [
          {"x": 289, "y": 86, "t": "(û"}, {"x": 302, "y": 86, "t": ")"}, {"x": 296, "y": 177, "t": "(û"}, {"x": 309, "y": 177, "t": ")"},
          {"x": 128, "y": 161, "t": "(u"}, {"x": 144.5, "y": 161, "t": ")"}
        ]},
        "mark": {"type": "text", "fontWeight": "bold", "fontStyle": "italic", "fontSize": 10, "align": "left", "baseline": "alphabetic", "color": "#111"},
        "encoding": {"text": {"field": "t"}}
      },
      {
        "data": {"values": [
          {"x": 298, "y": 88.5, "t": "n"}, {"x": 298, "y": 81.5, "t": "k"}, {"x": 305.5, "y": 80.5, "t": "T"},
          {"x": 305, "y": 179.5, "t": "n"}, {"x": 305, "y": 172.5, "t": "k"}, {"x": 312.5, "y": 171.5, "t": "T"},
          {"x": 137, "y": 163.5, "t": "n"}, {"x": 137, "y": 155.5, "t": "nμ"}, {"x": 148, "y": 155, "t": "T"}
        ]},
        "mark": {"type": "text", "fontWeight": "bold", "fontStyle": "italic", "fontSize": 6.5, "align": "left", "baseline": "alphabetic", "color": "#111"},
        "encoding": {"text": {"field": "t"}}
      },
      {
        "data": {"values": [{"x": 40, "y": 193, "t": "U"}]},
        "mark": {"type": "text", "fontWeight": "bold", "fontStyle": "italic", "fontSize": 27, "align": "left", "baseline": "alphabetic", "color": "#111"},
        "encoding": {"text": {"field": "t"}}
      },
      {
        "data": {"values": [{"x": 61, "y": 180, "t": "T"}]},
        "mark": {"type": "text", "fontWeight": "bold", "fontStyle": "italic", "fontSize": 16, "align": "left", "baseline": "alphabetic", "color": "#111"},
        "encoding": {"text": {"field": "t"}}
      }
    ]
  }
]
}
